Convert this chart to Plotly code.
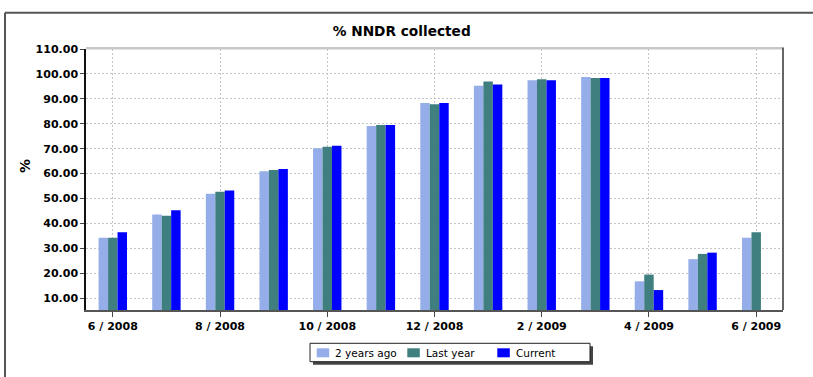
import plotly.graph_objects as go

# ---- data -----------------------------------------------------------------
months = ["6 / 2008", "7 / 2008", "8 / 2008", "9 / 2008", "10 / 2008",
          "11 / 2008", "12 / 2008", "1 / 2009", "2 / 2009", "3 / 2009",
          "4 / 2009", "5 / 2009", "6 / 2009"]

two_years_ago = [34.3, 43.6, 51.9, 61.0, 70.2, 79.1, 88.3, 95.3, 97.5, 98.8, 16.8, 25.7, 34.3]
last_year = [34.3, 43.1, 52.7, 61.5, 70.8, 79.5, 87.8, 97.0, 97.9, 98.4, 19.5, 27.8, 36.5]
current = [36.5, 45.3, 53.2, 61.9, 71.2, 79.5, 88.3, 95.8, 97.5, 98.4, 13.3, 28.3, None]

series_names = ["2 years ago", "Last year", "Current"]
series_colors = ["#95ade8", "#3f7f7f", "#0000ff"]

y_tick_values = [10, 20, 30, 40, 50, 60, 70, 80, 90, 100, 110]
x_tick_labels = months[::2]

# ---- page geometry (pixels) ----------------------------------------------
FIG_W, FIG_H = 813, 377
M_L, M_R, M_T, M_B = 86, 30, 49, 67
PLOT_W = FIG_W - M_L - M_R
PLOT_H = FIG_H - M_T - M_B


def paper_x(px):
    return (px - M_L) / PLOT_W


def paper_y(py):
    return (FIG_H - M_B - py) / PLOT_H


BOLD = dict(family="DejaVu Sans", size=11, color="#000000", weight="bold")
GRID = dict(showgrid=True, gridcolor="#c4c4c4", gridwidth=1, griddash="2px,2px")

fig = go.Figure()
for name, color, values in zip(series_names, series_colors,
                               [two_years_ago, last_year, current]):
    fig.add_trace(go.Bar(x=months, y=values, name=name,
                         marker=dict(color=color, line=dict(width=0))))

shapes = []
# outer frame (top and left edges)
shapes.append(dict(type="line", xref="paper", yref="paper",
                   x0=paper_x(5), x1=paper_x(FIG_W + 5),
                   y0=paper_y(12.7), y1=paper_y(12.7),
                   line=dict(color="#555555", width=2)))
shapes.append(dict(type="line", xref="paper", yref="paper",
                   x0=paper_x(5), x1=paper_x(5),
                   y0=paper_y(12.7), y1=paper_y(FIG_H + 5),
                   line=dict(color="#555555", width=2)))
# plot frame: light top edge, dark right edge
shapes.append(dict(type="line", xref="paper", yref="paper",
                   x0=0, x1=1, y0=paper_y(48.2), y1=paper_y(48.2),
                   line=dict(color="#c8c8c8", width=2.5)))
shapes.append(dict(type="line", xref="paper", yref="paper",
                   x0=1, x1=1, y0=0, y1=paper_y(47.5),
                   line=dict(color="#333333", width=1.5)))

# legend box with drop shadow
LEG_X0, LEG_X1, LEG_Y0, LEG_Y1 = 310, 590, 343.3, 361.7
shapes.append(dict(type="rect", xref="paper", yref="paper",
                   x0=paper_x(LEG_X0 + 3), x1=paper_x(LEG_X1 + 3),
                   y0=paper_y(LEG_Y0 + 3), y1=paper_y(LEG_Y1 + 3),
                   fillcolor="#444444", line=dict(width=0)))
shapes.append(dict(type="rect", xref="paper", yref="paper",
                   x0=paper_x(LEG_X0), x1=paper_x(LEG_X1),
                   y0=paper_y(LEG_Y0), y1=paper_y(LEG_Y1),
                   fillcolor="#ffffff", line=dict(color="#222222", width=1)))

annotations = []
swatch_left = [316.7, 407.3, 497.3]
for name, color, sx in zip(series_names, series_colors, swatch_left):
    shapes.append(dict(type="rect", xref="paper", yref="paper",
                       x0=paper_x(sx), x1=paper_x(sx + 12.5),
                       y0=paper_y(348.3), y1=paper_y(357.3),
                       fillcolor=color, line=dict(width=0)))
    annotations.append(dict(text=name, xref="paper", yref="paper",
                            x=paper_x(sx + 16.5), y=paper_y(353.2),
                            xanchor="left", yanchor="middle", showarrow=False,
                            font=dict(family="DejaVu Sans", size=10.5, color="#000000")))

# y-axis title
annotations.append(dict(text="%", xref="paper", yref="paper",
                        x=paper_x(25), y=paper_y(166), textangle=-90,
                        xanchor="center", yanchor="middle", showarrow=False,
                        font=dict(family="DejaVu Sans", size=14, color="#000000",
                                  weight="bold")))

fig.update_layout(
    width=FIG_W, height=FIG_H,
    margin=dict(l=M_L, r=M_R, t=M_T, b=M_B, pad=0),
    paper_bgcolor="#ffffff", plot_bgcolor="#ffffff",
    barmode="group", bargap=0.47, bargroupgap=0,
    showlegend=False,
    title=dict(text="% NNDR collected", xref="container", yref="container",
               x=401.7 / FIG_W, y=1 - 31.7 / FIG_H,
               xanchor="center", yanchor="middle",
               font=dict(family="DejaVu Sans", size=13.7, color="#000000",
                         weight="bold")),
    shapes=shapes,
    annotations=annotations,
)

fig.update_xaxes(
    type="category", categoryorder="array", categoryarray=months,
    range=[-0.5, len(months) - 0.5],
    tickmode="array", tickvals=x_tick_labels, ticktext=x_tick_labels,
    ticks="outside", ticklen=5, tickwidth=1, tickcolor="#444444",
    tickfont=BOLD,
    showline=True, linecolor="#555555", linewidth=2,
    zeroline=False, **GRID,
)
fig.update_yaxes(
    range=[5.3, 110],
    tickmode="array", tickvals=y_tick_values, tickformat=".2f",
    ticks="outside", ticklen=4, tickwidth=1, tickcolor="#444444",
    tickfont=BOLD,
    showline=True, linecolor="#111111", linewidth=1.5,
    zeroline=False, **GRID,
)

fig.write_html("out.html")
